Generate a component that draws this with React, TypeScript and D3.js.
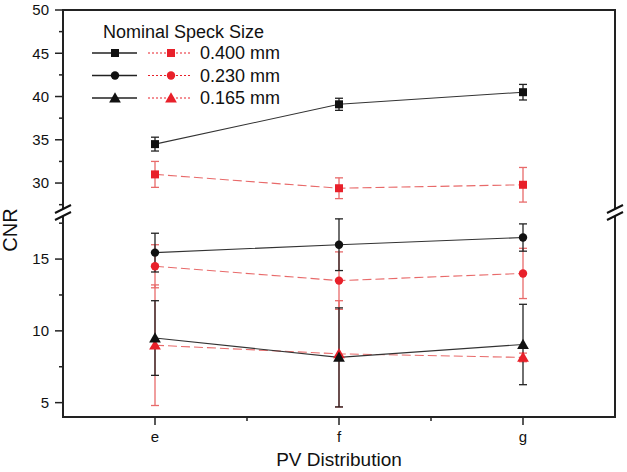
import React from 'react';
import * as d3 from 'd3';

const categories = ['e', 'f', 'g'];
const legendLabels = ['0.400 mm', '0.230 mm', '0.165 mm'];
const legendTitle = 'Nominal Speck Size';

const black400 = [34.5, 39.1, 40.5];
const black400Err = [0.8, 0.7, 0.9];
const red400 = [31.0, 29.4, 29.8];
const red400Err = [1.5, 1.2, 2.0];
const black230 = [15.45, 16.0, 16.5];
const black230Err = [1.35, 1.8, 0.95];
const red230 = [14.5, 13.5, 14.0];
const red230Err = [1.5, 2.0, 1.75];
const black165 = [9.5, 8.15, 9.05];
const black165Err = [2.6, 3.45, 2.8];
const red165 = [9.0, 8.4, 8.15];
const red165Err = [4.2, 3.7, 0.3];

const upperTicks = [30, 35, 40, 45, 50];
const upperMinor = [27.5, 32.5, 37.5, 42.5, 47.5];
const lowerTicks = [5, 10, 15];
const lowerMinor = [7.5, 12.5, 17.5];

const W = 627, H = 472;
const left = 63, right = 615, top = 10, bottom = 417;
const breakTopY = 209, breakBotY = 216;

const xScale = d3.scaleLinear().domain([0.5, 3.5]).range([left, right]);
const yUpper = d3.scaleLinear().domain([27, 50]).range([breakTopY, top]);
const yLower = d3.scaleLinear().domain([4, 18]).range([bottom, breakBotY]);
const yMap = (v: number) => (v >= 22 ? yUpper(v) : yLower(v));

const BLACK = '#111';
const RED = '#e8202a';
const RED_ERR = '#e86a6a';
const FONT = '"Liberation Sans", Arial, sans-serif';

type Shape = 'square' | 'circle' | 'triangle';

function Marker({ shape, x, y, color }: { shape: Shape; x: number; y: number; color: string }) {
  if (shape === 'square') return <rect x={x - 4} y={y - 4} width={8} height={8} fill={color} />;
  if (shape === 'circle') return <circle cx={x} cy={y} r={4.2} fill={color} />;
  const s = d3.symbol(d3.symbolTriangle, 60)();
  return <path d={s || ''} transform={`translate(${x},${y + 1})`} fill={color} />;
}

const series = [
  { vals: red400, errs: red400Err, shape: 'square' as Shape, color: RED, err: RED_ERR, dash: '9,4' },
  { vals: red230, errs: red230Err, shape: 'circle' as Shape, color: RED, err: RED_ERR, dash: '9,4' },
  { vals: red165, errs: red165Err, shape: 'triangle' as Shape, color: RED, err: RED_ERR, dash: '9,4' },
  { vals: black400, errs: black400Err, shape: 'square' as Shape, color: BLACK, err: '#222', dash: '' },
  { vals: black230, errs: black230Err, shape: 'circle' as Shape, color: BLACK, err: '#222', dash: '' },
  { vals: black165, errs: black165Err, shape: 'triangle' as Shape, color: BLACK, err: '#222', dash: '' },
];

export default function App() {
  const line = d3
    .line<number>()
    .x((_, i) => xScale(i + 1))
    .y((d) => yMap(d));

  const breakLines = (x: number) =>
    [breakTopY, breakBotY].map((y, i) => (
      <line key={i} x1={x - 8} y1={y + 4} x2={x + 8} y2={y - 4} stroke={BLACK} strokeWidth={2} />
    ));

  return (
    <svg width={W} height={H} style={{ position: 'absolute', left: 0, top: 0, background: '#fff' }} fontFamily={FONT}>
      <rect x={0} y={0} width={W} height={H} fill="#fff" />
      {/* frame */}
      <line x1={left} x2={right} y1={top} y2={top} stroke="#222" strokeWidth={2} />
      <line x1={left} x2={right} y1={bottom} y2={bottom} stroke="#222" strokeWidth={2} />
      <line x1={left} x2={left} y1={top - 1} y2={breakTopY} stroke="#222" strokeWidth={2} />
      <line x1={left} x2={left} y1={breakBotY} y2={bottom + 1} stroke="#222" strokeWidth={2} />
      <line x1={right} x2={right} y1={top - 1} y2={breakTopY} stroke="#222" strokeWidth={2} />
      <line x1={right} x2={right} y1={breakBotY} y2={bottom + 1} stroke="#222" strokeWidth={2} />
      {breakLines(left)}
      {breakLines(right)}

      {/* y ticks */}
      {upperTicks.map((t) => (
        <g key={'u' + t}>
          <line x1={left - 8} x2={left} y1={yUpper(t)} y2={yUpper(t)} stroke="#222" strokeWidth={1.5} />
          <text x={49} y={yUpper(t)} dy="0.35em" textAnchor="end" fontSize={15} fill="#111">{t}</text>
        </g>
      ))}
      {upperMinor.map((t) => (
        <line key={'um' + t} x1={left - 4} x2={left} y1={yUpper(t)} y2={yUpper(t)} stroke="#222" strokeWidth={1.5} />
      ))}
      {lowerTicks.map((t) => (
        <g key={'l' + t}>
          <line x1={left - 8} x2={left} y1={yLower(t)} y2={yLower(t)} stroke="#222" strokeWidth={1.5} />
          <text x={49} y={yLower(t)} dy="0.35em" textAnchor="end" fontSize={15} fill="#111">{t}</text>
        </g>
      ))}
      {lowerMinor.map((t) => (
        <line key={'lm' + t} x1={left - 4} x2={left} y1={yLower(t)} y2={yLower(t)} stroke="#222" strokeWidth={1.5} />
      ))}

      {/* x ticks */}
      {categories.map((c, i) => (
        <g key={c}>
          <line x1={xScale(i + 1)} x2={xScale(i + 1)} y1={bottom} y2={bottom + 8} stroke="#222" strokeWidth={1.5} />
          <text x={xScale(i + 1)} y={442} textAnchor="middle" fontSize={15} fill="#111">{c}</text>
        </g>
      ))}
      {[1.5, 2.5].map((t) => (
        <line key={t} x1={xScale(t)} x2={xScale(t)} y1={bottom} y2={bottom + 4} stroke="#222" strokeWidth={1.5} />
      ))}

      {/* axis labels */}
      <text x={339} y={466} textAnchor="middle" fontSize={19} fill="#111">PV Distribution</text>
      <text transform={`translate(17,230) rotate(-90)`} textAnchor="middle" fontSize={20} fill="#111">CNR</text>

      {/* series lines */}
      {series.map((s, k) => (
        <path key={'ln' + k} d={line(s.vals) || ''} fill="none" stroke={s.color === RED ? RED_ERR : '#333'} strokeWidth={1.1} strokeDasharray={s.dash} />
      ))}
      {/* error bars */}
      {series.map((s, k) => (
        <g key={'eb' + k}>
          {s.vals.map((v, i) => {
            const x = xScale(i + 1);
            const y1 = yMap(v + s.errs[i]);
            const y2 = yMap(v - s.errs[i]);
            return (
              <g key={i} stroke={s.err} strokeWidth={1.3}>
                <line x1={x} x2={x} y1={y1} y2={y2} />
                <line x1={x - 4} x2={x + 4} y1={y1} y2={y1} />
                <line x1={x - 4} x2={x + 4} y1={y2} y2={y2} />
              </g>
            );
          })}
        </g>
      ))}
      {/* markers */}
      {series.map((s, k) => (
        <g key={'mk' + k}>
          {s.vals.map((v, i) => (
            <Marker key={i} shape={s.shape} x={xScale(i + 1)} y={yMap(v)} color={s.color} />
          ))}
        </g>
      ))}

      {/* legend */}
      <text x={103} y={38} fontSize={18} fill="#111">{legendTitle}</text>
      {legendLabels.map((lab, i) => {
        const y = 53 + i * 22.5;
        const shape: Shape = i === 0 ? 'square' : i === 1 ? 'circle' : 'triangle';
        return (
          <g key={lab}>
            <line x1={92} x2={137} y1={y} y2={y} stroke="#222" strokeWidth={1.3} />
            <Marker shape={shape} x={115} y={y} color={BLACK} />
            <line x1={148} x2={192} y1={y} y2={y} stroke={RED} strokeWidth={1} strokeDasharray="2,2" />
            <Marker shape={shape} x={171} y={y} color={RED} />
            <text x={200} y={y} dy="0.36em" fontSize={18} fill="#111">{lab}</text>
          </g>
        );
      })}
    </svg>
  );
}
